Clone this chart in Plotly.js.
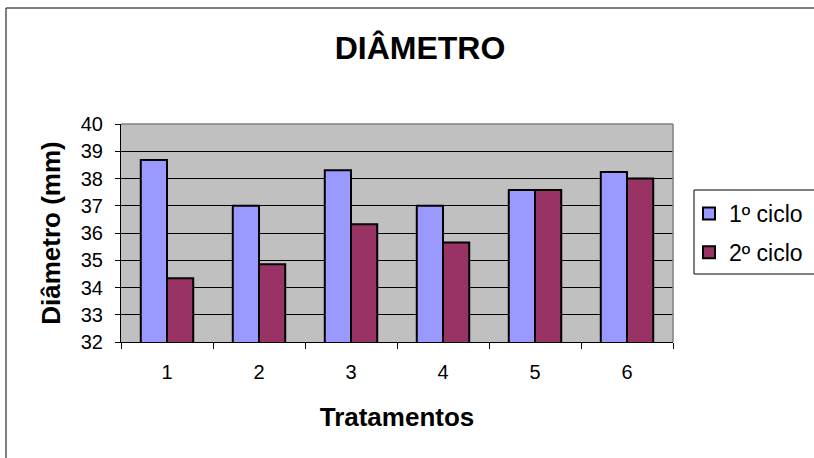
<!DOCTYPE html>
<html>
<head>
<meta charset="utf-8">
<script src="https://cdn.plot.ly/plotly-3.0.1.min.js"></script>
<style>
  html, body { margin: 0; padding: 0; background: #ffffff; }
  #chart { width: 814px; height: 458px; }
</style>
</head>
<body>
<div id="chart"></div>
<script>
const categories = ["1", "2", "3", "4", "5", "6"];
const seriesNames = ["1º ciclo", "2º ciclo"];
const ciclo1 = [38.68, 37.0, 38.3, 37.0, 37.58, 38.24];
const ciclo2 = [34.34, 34.85, 36.32, 35.65, 37.58, 38.0];
const yTicks = [32, 33, 34, 35, 36, 37, 38, 39, 40];

const FONT = "Liberation Sans, Arial, sans-serif";

const traces = [
  {
    type: "bar", name: seriesNames[0], x: categories, y: ciclo1,
    legendgroup: "a",
    marker: { color: "#9999FF", line: { color: "#000000", width: 2 } }
  },
  {
    type: "bar", name: seriesNames[1], x: categories, y: ciclo2,
    legendgroup: "b",
    marker: { color: "#993366", line: { color: "#000000", width: 2 } }
  }
];

const L = 121, R = 673, T = 124, B = 342, W = 814, H = 458;
const pw = R - L, ph = B - T;
const px = v => (v - L) / pw;
const py = v => (B - v) / ph;

const layout = {
  width: W, height: H,
  margin: { l: L, r: W - R, t: T, b: H - B, pad: 0, autoexpand: false },
  paper_bgcolor: "#ffffff",
  plot_bgcolor: "#C0C0C0",
  font: { family: FONT, color: "#000000", size: 20 },
  hovermode: false,
  barmode: "group",
  bargap: 0.43,
  bargroupgap: 0,
  title: {
    text: "<b>DIÂMETRO</b>",
    font: { family: FONT, size: 32, color: "#000000" },
    x: 420 / W, xref: "container", xanchor: "center",
    y: 1 - 48 / H, yref: "container", yanchor: "middle"
  },
  xaxis: {
    type: "category",
    tickson: "boundaries",
    ticks: "outside", ticklen: 6, tickcolor: "#000000", tickwidth: 1,
    ticklabelstandoff: 12,
    showline: true, linecolor: "#000000", linewidth: 1,
    showgrid: false, zeroline: false,
    tickfont: { family: FONT, size: 20 },
    title: { text: "<b>Tratamentos</b>", font: { family: FONT, size: 26 }, standoff: 25 },
    automargin: false
  },
  yaxis: {
    range: [32, 40],
    tickvals: yTicks,
    ticktext: yTicks.map(String),
    ticks: "outside", ticklen: 5, tickcolor: "#000000", tickwidth: 1,
    ticklabelstandoff: 8,
    showline: true, linecolor: "#000000", linewidth: 1,
    showgrid: true, gridcolor: "#000000", gridwidth: 1,
    zeroline: false,
    tickfont: { family: FONT, size: 20 },
    title: { text: "<b>Diâmetro (mm)</b>", font: { family: FONT, size: 26 }, standoff: 12 },
    automargin: false
  },
  showlegend: true,
  legend: {
    x: px(689), xanchor: "left",
    y: py(192), yanchor: "top",
    bgcolor: "rgba(0,0,0,0)",
    borderwidth: 0,
    font: { family: FONT, size: 23, color: "#000000" },
    traceorder: "grouped",
    tracegroupgap: 6
  },
  shapes: [
    { type: "line", xref: "paper", yref: "paper", x0: px(6), x1: px(6), y0: py(470), y1: py(8),
      line: { color: "#000000", width: 1 } },
    { type: "line", xref: "paper", yref: "paper", x0: px(6), x1: px(830), y0: py(8), y1: py(8),
      line: { color: "#000000", width: 1 } },
    { type: "line", xref: "paper", yref: "paper", x0: 0, x1: 1, y0: 1, y1: 1,
      line: { color: "#808080", width: 1.5 } },
    { type: "line", xref: "paper", yref: "paper", x0: 1, x1: 1, y0: 0, y1: 1,
      line: { color: "#808080", width: 1.5 } },
    { type: "rect", xref: "paper", yref: "paper", x0: px(694), x1: px(830), y0: py(274), y1: py(190),
      fillcolor: "#ffffff", line: { color: "#000000", width: 1 } }
  ]
};

Plotly.newPlot("chart", traces, layout, { staticPlot: true, displayModeBar: false });
</script>
</body>
</html>
